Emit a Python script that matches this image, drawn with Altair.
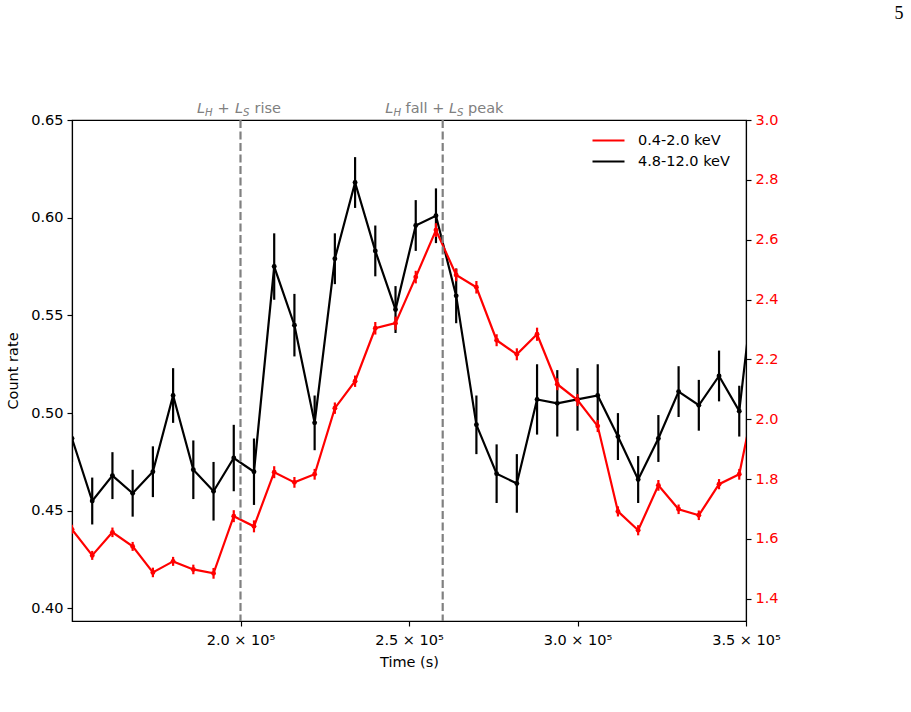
import altair as alt
import pandas as pd

# ---------------- data ----------------
times = [150000, 156000, 162000, 168000, 174000, 180000, 186000, 192000, 198000,
         204000, 210000, 216000, 222000, 228000, 234000, 240000, 246000, 252000,
         258000, 264000, 270000, 276000, 282000, 288000, 294000, 300000, 306000,
         312000, 318000, 324000, 330000, 336000, 342000, 348000, 354000]

hard_rate = [0.487, 0.455, 0.468, 0.459, 0.470, 0.509, 0.471, 0.460, 0.477,
             0.470, 0.575, 0.545, 0.495, 0.579, 0.618, 0.583, 0.553, 0.596,
             0.601, 0.560, 0.494, 0.469, 0.464, 0.507, 0.505, 0.507, 0.509,
             0.488, 0.466, 0.487, 0.511, 0.504, 0.519, 0.501, 0.590]
hard_err = [0.012, 0.012, 0.012, 0.012, 0.013, 0.014, 0.015, 0.015, 0.017,
            0.017, 0.017, 0.016, 0.014, 0.013, 0.013, 0.013, 0.012, 0.013,
            0.014, 0.014, 0.015, 0.015, 0.015, 0.018, 0.017, 0.016, 0.016,
            0.012, 0.012, 0.012, 0.013, 0.013, 0.013, 0.013, 0.013]

soft_rate = [1.632, 1.545, 1.622, 1.575, 1.488, 1.525, 1.498, 1.485, 1.676,
             1.642, 1.823, 1.789, 1.816, 2.037, 2.127, 2.304, 2.321, 2.475,
             2.632, 2.482, 2.441, 2.264, 2.217, 2.284, 2.117, 2.064, 1.977,
             1.692, 1.629, 1.779, 1.699, 1.679, 1.783, 1.816, 2.144]
soft_err = [0.015, 0.015, 0.016, 0.015, 0.016, 0.015, 0.016, 0.018, 0.020,
            0.020, 0.020, 0.018, 0.018, 0.019, 0.019, 0.021, 0.022, 0.021,
            0.023, 0.021, 0.021, 0.020, 0.020, 0.022, 0.020, 0.020, 0.020,
            0.017, 0.017, 0.018, 0.016, 0.016, 0.017, 0.018, 0.020]

band_names = ["0.4-2.0 keV", "4.8-12.0 keV"]
band_colors = ["red", "black"]

x_ticks = [200000, 250000, 300000, 350000]
left_ticks = [0.40, 0.45, 0.50, 0.55, 0.60, 0.65]
right_ticks = [1.4, 1.6, 1.8, 2.0, 2.2, 2.4, 2.6, 2.8, 3.0]
event_times = [200000, 260000]

hard_df = pd.DataFrame({
    "time": times, "rate": hard_rate,
    "lo": [r - e for r, e in zip(hard_rate, hard_err)],
    "hi": [r + e for r, e in zip(hard_rate, hard_err)],
    "band": band_names[1],
})
soft_df = pd.DataFrame({
    "time": times, "rate": soft_rate,
    "lo": [r - e for r, e in zip(soft_rate, soft_err)],
    "hi": [r + e for r, e in zip(soft_rate, soft_err)],
    "band": band_names[0],
})

FONT = "DejaVu Sans"
FS = 14.5
LW = 2.2

x_scale = alt.Scale(domain=[150000, 350000], nice=False, zero=False)
x_axis = alt.Axis(values=x_ticks, title="Time (s)",
                  labelExpr="format(datum.value/100000, '.1f') + ' × 10⁵'",
                  labelPadding=7, titlePadding=9)
x_enc = alt.X("time:Q", scale=x_scale, axis=x_axis)

color_enc = alt.Color(
    "band:N",
    scale=alt.Scale(domain=band_names, range=band_colors),
    legend=alt.Legend(
        title=None, orient="none", legendX=527, legendY=11,
        symbolType="M-2,0H2", symbolSize=256, symbolStrokeWidth=LW,
        labelFont=FONT, labelFontSize=FS, labelOffset=20, rowPadding=5,
        padding=0,
    ),
)


def group(df, color, domain, axis):
    def yf(field):
        return alt.Y(f"{field}:Q", scale=alt.Scale(domain=domain, nice=False, zero=False),
                     axis=axis)
    base = alt.Chart(df)
    err = base.mark_rule(clip=True, strokeWidth=LW, color=color).encode(
        x=x_enc, y=yf("lo"), y2="hi:Q")
    line = base.mark_line(clip=True, strokeWidth=LW).encode(
        x=x_enc, y=yf("rate"), color=color_enc)
    pts = base.mark_circle(clip=True, size=24, opacity=1, color=color).encode(
        x=x_enc, y=yf("rate"))
    return alt.layer(err, line, pts)


left_axis = alt.Axis(orient="left", values=left_ticks, format=".2f", title="Count rate",
                     titlePadding=10)
right_axis = alt.Axis(orient="right", values=right_ticks, format=".1f", title=None,
                      labelColor="red")

hard = group(hard_df, "black", [0.3936, 0.65], left_axis)
soft = group(soft_df, "red", [1.3257, 3.0], right_axis)

ev_df = pd.DataFrame({"t": event_times})
vlines = alt.Chart(ev_df).mark_rule(color="gray", strokeWidth=LW, strokeDash=[8, 3.5]).encode(
    x=alt.X("t:Q", scale=x_scale, axis=x_axis))

# annotation pieces: (anchor time, text, italic, font size, dx, dy)
pieces = [
    (event_times[0], "L", True, FS, -43.5, 0),
    (event_times[0], "H", True, 10.15, -35.4, 3),
    (event_times[0], "+", False, FS, -23.0, 0),
    (event_times[0], "L", True, FS, -5.5, 0),
    (event_times[0], "S", True, 10.15, 2.6, 3),
    (event_times[0], "rise", False, FS, 14.0, 0),
    (event_times[1], "L", True, FS, -57.4, 0),
    (event_times[1], "H", True, 10.15, -49.3, 3),
    (event_times[1], "fall", False, FS, -37.1, 0),
    (event_times[1], "+", False, FS, -10.4, 0),
    (event_times[1], "L", True, FS, 6.3, 0),
    (event_times[1], "S", True, 10.15, 14.4, 3),
    (event_times[1], "peak", False, FS, 25.4, 0),
]
texts = []
for t, s, it, fs, dx, dy in pieces:
    texts.append(
        alt.Chart(pd.DataFrame({"t": [t], "s": [s]})).mark_text(
            align="left", baseline="alphabetic", font=FONT, fontSize=fs,
            fontStyle="italic" if it else "normal", color="gray", dx=dx, dy=dy,
        ).encode(x=alt.X("t:Q"), y=alt.value(-7), text="s:N")
    )

page_no = alt.Chart(pd.DataFrame({"s": ["5"]})).mark_text(
    font="Liberation Serif", fontSize=18, align="center", baseline="alphabetic", color="black"
).encode(x=alt.value(827), y=alt.value(-101), text="s:N")

chart = alt.layer(hard, soft, vlines, *texts, page_no).resolve_scale(
    y="independent"
).properties(
    width=674, height=501,
    padding={"left": 72, "top": 120, "right": 165, "bottom": 91},
    autosize=alt.AutoSizeParams(type="none"),
).configure_view(
    stroke="black", strokeWidth=1.16
).configure_axis(
    labelFont=FONT, titleFont=FONT, labelFontSize=FS, titleFontSize=FS,
    titleFontWeight="normal", labelColor="black", titleColor="black",
    domainColor="black", domainWidth=1.16, tickColor="black", tickWidth=1.16,
    tickSize=5, labelPadding=4, grid=False, labelFlush=False, labelOverlap=False,
)

chart.save("out.html", embed_options={"renderer": "svg", "actions": False})
